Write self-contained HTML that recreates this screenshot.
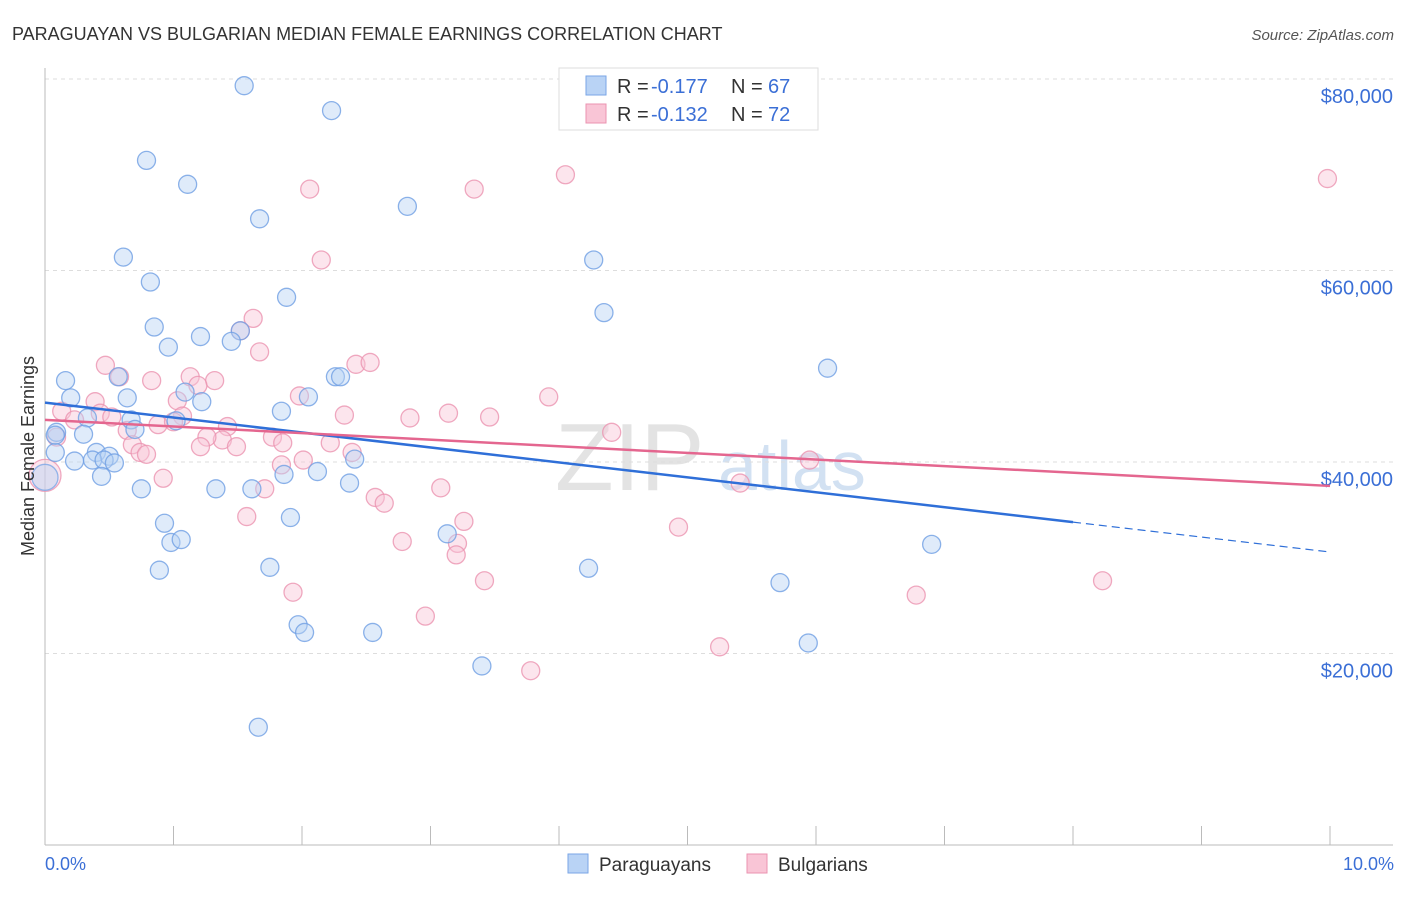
<!DOCTYPE html>
<html><head><meta charset="utf-8"><style>
body{margin:0;background:#fff;font-family:"Liberation Sans",sans-serif}
svg text{font-family:"Liberation Sans",sans-serif}
</style></head><body>
<svg width="1406" height="892" viewBox="0 0 1406 892" xmlns="http://www.w3.org/2000/svg">
<text x="12" y="40" font-size="18" fill="#333">PARAGUAYAN VS BULGARIAN MEDIAN FEMALE EARNINGS CORRELATION CHART</text>
<text x="1394" y="40" font-size="15" fill="#555" font-style="italic" text-anchor="end">Source: ZipAtlas.com</text>
<g>
<text x="555" y="490" font-size="96" fill="#ddd" font-family="Liberation Serif" opacity="0.8">ZIP</text>
<text x="718" y="490" font-size="70" fill="#c8daf0" opacity="0.8">atlas</text>
</g>
<g id="grid"></g>
<g id="axes"></g>
<text x="45" y="870" font-size="18" fill="#3b6fd6">0.0%</text>
<text x="1394" y="870" font-size="18" fill="#3b6fd6" text-anchor="end">10.0%</text>
<g id="pts"></g>
<g id="trend"></g>
<text transform="translate(34,456) rotate(-90)" font-size="18" fill="#333" text-anchor="middle">Median Female Earnings</text>
<g>
<rect x="559" y="68" width="259" height="62" fill="#fff" stroke="#ddd"/>
<rect x="586" y="76" width="20" height="19" fill="#b9d3f5" stroke="#7aa6e6"/>
<rect x="586" y="104" width="20" height="19" fill="#f9c5d6" stroke="#eb93b0"/>
<text y="93" font-size="20" fill="#333"><tspan x="617">R = </tspan><tspan x="651" fill="#3b6fd6">-0.177</tspan><tspan x="731">N = </tspan><tspan x="768" fill="#3b6fd6">67</tspan></text>
<text y="121" font-size="20" fill="#333"><tspan x="617">R = </tspan><tspan x="651" fill="#3b6fd6">-0.132</tspan><tspan x="731">N = </tspan><tspan x="768" fill="#3b6fd6">72</tspan></text>
</g>
<g>
<rect x="568" y="854" width="20" height="19" fill="#b9d3f5" stroke="#7aa6e6"/>
<text x="599" y="871" font-size="19" fill="#333">Paraguayans</text>
<rect x="747" y="854" width="20" height="19" fill="#f9c5d6" stroke="#eb93b0"/>
<text x="778" y="871" font-size="19" fill="#333">Bulgarians</text>
</g>
</svg>
<script>
const yTicks=[20000,40000,60000,80000];
const yTickLabels=["$20,000","$40,000","$60,000","$80,000"];
const paraX=[1.55,2.23,0.79,1.11,1.67,2.82,0.61,4.27,0.82,1.88,4.35,0.85,1.52,0.96,1.21,1.45,6.09,0.16,0.57,2.26,2.30,1.09,1.22,0.64,0.20,2.05,1.84,0.33,0.67,1.02,0.09,0.70,0.30,0.08,0.40,0.50,0.23,0.37,0.46,0.54,2.41,2.12,0.44,1.86,0.75,1.33,1.61,2.37,1.91,0.93,3.13,0.98,1.06,6.90,0.89,1.75,4.23,5.72,1.97,2.02,2.55,5.94,3.40,1.66,0.08];
const paraY=[79.3,76.7,71.5,69.0,65.4,66.7,61.4,61.1,58.8,57.2,55.6,54.1,53.7,52.0,53.1,52.6,49.8,48.5,48.9,48.9,48.9,47.3,46.3,46.7,46.7,46.8,45.3,44.6,44.4,44.3,43.1,43.4,42.9,41.0,41.0,40.6,40.1,40.2,40.2,39.9,40.3,39.0,38.5,38.7,37.2,37.2,37.2,37.8,34.2,33.6,32.5,31.6,31.9,31.4,28.7,29.0,28.9,27.4,23.0,22.2,22.2,21.1,18.7,12.3,42.8];
const bulgX=[9.98,4.05,3.34,2.06,2.15,1.62,1.52,1.67,0.47,2.42,2.53,0.83,0.58,1.13,1.32,1.19,1.98,3.92,1.03,0.39,0.13,0.43,3.14,2.33,2.84,3.46,1.07,0.23,0.52,0.88,1.42,1.00,0.64,4.41,0.09,1.77,1.38,1.26,2.22,1.85,0.68,1.21,1.49,0.74,0.79,2.39,2.01,5.95,1.84,0.92,5.41,3.08,1.71,2.57,2.64,1.57,3.26,4.93,2.78,3.21,3.20,3.42,8.23,1.93,6.78,2.96,5.25,3.78];
const bulgY=[69.6,70.0,68.5,68.5,61.1,55.0,53.7,51.5,50.1,50.2,50.4,48.5,48.9,48.9,48.5,48.0,46.9,46.8,46.4,46.3,45.3,45.1,45.1,44.9,44.6,44.7,44.8,44.4,44.7,43.9,43.7,44.2,43.3,43.1,42.6,42.6,42.3,42.6,42.0,42.0,41.8,41.6,41.6,41.0,40.8,41.0,40.2,40.2,39.7,38.3,37.8,37.3,37.2,36.3,35.7,34.3,33.8,33.2,31.7,31.5,30.3,27.6,27.6,26.4,26.1,23.9,20.7,18.2];
const bigX=[0,0], bigY=[38.6,38.4];
const paraTrend=[46.2,30.6], bulgTrend=[44.4,37.5], paraSolidEnd=8.0;
const NS="http://www.w3.org/2000/svg";
const sx=p=>45+p*128.5, sy=k=>845-k*9.575;
function mk(t,a,parent){const e=document.createElementNS(NS,t);for(const k in a)e.setAttribute(k,a[k]);parent.appendChild(e);return e;}
const grid=document.getElementById('grid'),axes=document.getElementById('axes'),pts=document.getElementById('pts'),tr=document.getElementById('trend');
yTicks.forEach((v,i)=>{const y=sy(v/1000);
const l=mk('line',{x1:45,x2:1393,y1:y,y2:y,stroke:'#ddd','stroke-dasharray':'4,4'},grid);


const t=mk('text',{x:1393,y:y+24,'font-size':20,fill:'#3b6fd6','text-anchor':'end'},grid);t.textContent=yTickLabels[i];

});
const al=mk('line',{x1:45,x2:45,y1:68,y2:845,stroke:'#bbb'},axes);


const bl=mk('line',{x1:45,x2:1393,y1:845,y2:845,stroke:'#bbb'},axes);


for(let i=0;i<=10;i++){const t=mk('line',{x1:sx(i),x2:sx(i),y1:826,y2:845,stroke:'#bbb'},axes);

}
function dots(X,Y,f,s,r,name){X.forEach((x,i)=>{const c=mk('circle',{cx:sx(x),cy:sy(Y[i]),r:r,fill:f,'fill-opacity':0.45,stroke:s,'stroke-opacity':0.8,'stroke-width':1.3},pts);

});}
dots(bigX.slice(0,1),bigY.slice(0,1),'#f9c5d6','#eb93b0',16,'bulgarian-point-large');
dots(bigX.slice(1),bigY.slice(1),'#b9d3f5','#7aa6e6',13,'paraguayan-point-large');
dots(bulgX,bulgY,'#f9c5d6','#eb93b0',9,'bulgarian-point');
dots(paraX,paraY,'#b9d3f5','#6f9fe3',9,'paraguayan-point');
const pAt=x=>paraTrend[0]+(paraTrend[1]-paraTrend[0])*x/10;
const l1=mk('line',{x1:sx(0),y1:sy(pAt(0)),x2:sx(paraSolidEnd),y2:sy(pAt(paraSolidEnd)),stroke:'#2f6fd8','stroke-width':2.5},tr);


const l2=mk('line',{x1:sx(paraSolidEnd),y1:sy(pAt(paraSolidEnd)),x2:sx(10),y2:sy(pAt(10)),stroke:'#2f6fd8','stroke-width':1.2,'stroke-dasharray':'8,5'},tr);


const l3=mk('line',{x1:sx(0),y1:sy(bulgTrend[0]),x2:sx(10),y2:sy(bulgTrend[1]),stroke:'#e4668f','stroke-width':2.5},tr);


</script>
</body></html>
